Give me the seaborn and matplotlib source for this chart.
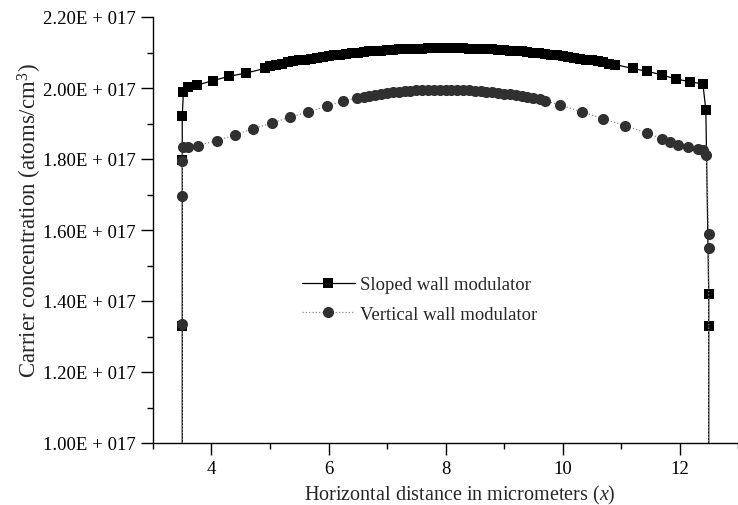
import matplotlib
matplotlib.use("Agg")
import matplotlib.pyplot as plt
import seaborn as sns
import pandas as pd
from matplotlib.ticker import FixedLocator, MultipleLocator

sns.set_theme(style="ticks")
plt.rcParams["font.family"] = ["Liberation Serif", "DejaVu Serif"]
plt.rcParams["mathtext.fontset"] = "custom"
plt.rcParams["mathtext.rm"] = "Liberation Serif"
plt.rcParams["mathtext.it"] = "Liberation Serif:italic"

# Carrier concentration in units of 1E+017 atoms/cm^3; x in micrometers.
# Points at 0 mark the wall edges (line drops to the axis).
sloped_x = [3.5, 3.5, 3.5, 3.5, 3.52, 3.6, 3.75, 4.03, 4.30, 4.59, 4.91,
            5.0, 5.1, 5.2, 5.3, 5.4, 5.5, 5.6, 5.7, 5.8, 5.9,
            6.0, 6.1, 6.2, 6.3, 6.4, 6.5, 6.6, 6.7, 6.8, 6.9,
            7.0, 7.1, 7.2, 7.3, 7.4, 7.5, 7.6, 7.7, 7.8, 7.9,
            8.0, 8.1, 8.2, 8.3, 8.4, 8.5, 8.6, 8.7, 8.8, 8.9,
            9.0, 9.1, 9.2, 9.3, 9.4, 9.5, 9.6, 9.7, 9.8, 9.9,
            10.0, 10.1, 10.2, 10.3, 10.4, 10.5, 10.6, 10.7, 10.8, 10.9,
            11.2, 11.45, 11.7, 11.94, 12.18, 12.40, 12.45, 12.5, 12.5, 12.5]
sloped_y = [0.0, 1.329, 1.797, 1.921, 1.990, 2.003, 2.008, 2.021, 2.033, 2.042, 2.055,
            2.063, 2.066, 2.069, 2.072, 2.075, 2.078, 2.080, 2.083, 2.085, 2.088,
            2.090, 2.092, 2.094, 2.096, 2.098, 2.100, 2.101, 2.103, 2.104, 2.105,
            2.107, 2.108, 2.109, 2.109, 2.110, 2.111, 2.111, 2.112, 2.112, 2.112,
            2.112, 2.112, 2.112, 2.112, 2.111, 2.111, 2.110, 2.109, 2.109, 2.108,
            2.107, 2.105, 2.104, 2.103, 2.101, 2.100, 2.098, 2.096, 2.094, 2.092,
            2.090, 2.088, 2.085, 2.083, 2.080, 2.078, 2.075, 2.072, 2.069, 2.066,
            2.055, 2.047, 2.037, 2.025, 2.018, 2.011, 1.939, 1.421, 1.329, 0.0]

vertical_x = [3.5, 3.5, 3.5, 3.5, 3.52, 3.60, 3.77, 4.09, 4.40, 4.71, 5.03,
              5.34, 5.65, 5.97, 6.25, 6.48,
              6.6, 6.7, 6.8, 6.9, 7.0, 7.1, 7.2, 7.3, 7.4, 7.5,
              7.6, 7.7, 7.8, 7.9, 8.0, 8.1, 8.2, 8.3, 8.4, 8.5,
              8.6, 8.7, 8.8, 8.9, 9.0, 9.1, 9.2, 9.3, 9.4, 9.5,
              9.62, 9.70, 9.96, 10.33, 10.70, 11.07, 11.44, 11.70, 11.84, 11.98,
              12.15, 12.32, 12.40, 12.46, 12.5, 12.5, 12.5]
vertical_y = [0.0, 1.335, 1.697, 1.795, 1.834, 1.833, 1.838, 1.852, 1.868, 1.885, 1.901,
              1.918, 1.932, 1.949, 1.963, 1.972,
              1.975, 1.978, 1.981, 1.984, 1.986, 1.988, 1.990, 1.991, 1.992, 1.993,
              1.994, 1.994, 1.995, 1.995, 1.995, 1.995, 1.994, 1.994, 1.993, 1.992,
              1.991, 1.990, 1.988, 1.986, 1.984, 1.982, 1.979, 1.977, 1.974, 1.971,
              1.969, 1.964, 1.952, 1.933, 1.913, 1.894, 1.873, 1.857, 1.849, 1.840,
              1.835, 1.829, 1.824, 1.810, 1.590, 1.548, 0.0]

y_ticks = [1.0, 1.2, 1.4, 1.6, 1.8, 2.0, 2.2]
y_tick_labels = ["1.00E + 017", "1.20E + 017", "1.40E + 017", "1.60E + 017",
                 "1.80E + 017", "2.00E + 017", "2.20E + 017"]
x_ticks = [4, 6, 8, 10, 12]

sloped = pd.DataFrame({"x": sloped_x, "y": sloped_y})
vertical = pd.DataFrame({"x": vertical_x, "y": vertical_y})

fig = plt.figure(figsize=(7.38, 5.06), dpi=100)
ax = fig.add_axes([153 / 738, 62 / 506, 585 / 738, 426 / 506])

sns.lineplot(data=sloped, x="x", y="y", ax=ax, sort=False, estimator=None,
             color="black", lw=0.9, marker="s", markersize=7.5,
             markeredgewidth=0, label="Sloped wall modulator")
sns.lineplot(data=vertical, x="x", y="y", ax=ax, sort=False, estimator=None,
             color="#8a8a8a", lw=0.9, linestyle=":", marker="o", markersize=8,
             markerfacecolor="#303030", markeredgecolor="#303030",
             markeredgewidth=0, label="Vertical wall modulator")

ax.set_xlim(3, 13)
ax.set_ylim(1.0, 2.2)
ax.xaxis.set_major_locator(FixedLocator(x_ticks))
ax.xaxis.set_minor_locator(MultipleLocator(1))
ax.yaxis.set_major_locator(FixedLocator(y_ticks))
ax.set_yticklabels(y_tick_labels)
ax.yaxis.set_minor_locator(MultipleLocator(0.1))

for side in ("top", "right"):
    ax.spines[side].set_visible(False)
for side in ("left", "bottom"):
    ax.spines[side].set_linewidth(1.0)
    ax.spines[side].set_color("black")

ax.tick_params(which="major", direction="out", length=8.5, width=1.0,
               labelsize=13.5, colors="black", pad=4)
ax.tick_params(which="minor", direction="out", length=4.5, width=1.0,
               colors="black")

ax.set_xlabel(r"Horizontal distance in micrometers ($\mathit{x}$)",
              fontsize=14.5)
ax.xaxis.set_label_coords(0.525, -0.094)
ax.set_ylabel(r"Carrier concentration (atoms/cm$^3$)", fontsize=16.5)
ax.yaxis.set_label_coords(-0.187, 0.525)

ax.legend(loc="upper left", bbox_to_anchor=(302 / 738, 1 - 277 / 506),
          bbox_transform=fig.transFigure, borderpad=0, borderaxespad=0,
          frameon=False, fontsize=13.5, handlelength=2.8, numpoints=1,
          labelspacing=0.67, handletextpad=0.3)

fig.savefig("out.png", dpi=100, facecolor="white")
